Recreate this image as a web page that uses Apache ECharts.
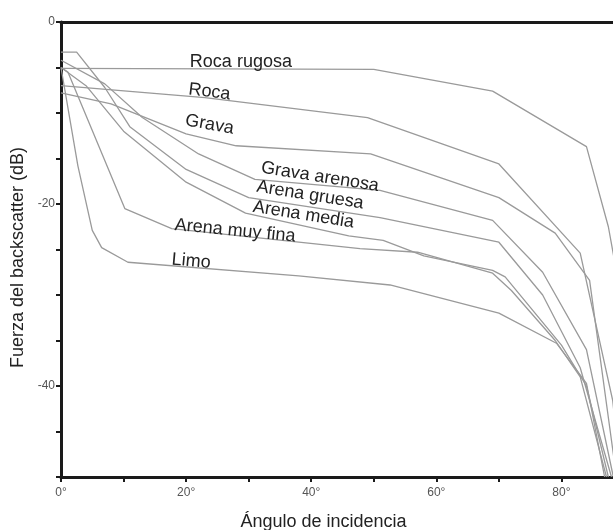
<!DOCTYPE html>
<html>
<head>
<meta charset="utf-8">
<script src="https://cdn.jsdelivr.net/npm/echarts@6/dist/echarts.min.js"></script>
<style>
html,body{margin:0;padding:0;background:#fff;}
#c{width:613px;height:530px;}
</style>
</head>
<body>
<div id="c"></div>
<script>
// Data: [angle (deg), backscatter (dB)]
const rocaRugosa = [[0,-5.1],[50,-5.2],[69,-7.6],[84,-13.7],[87.5,-22.5],[90,-32]];
const roca = [[0,-7.0],[23,-8.3],[49,-10.5],[70,-15.6],[83,-25.4],[88.2,-41.6],[89.5,-50]];
const grava = [[0,-7.8],[8,-9.0],[20,-12.3],[28,-13.6],[49.5,-14.5],[70,-19.3],[79,-23.2],[84.5,-28.4],[88.8,-50]];
const gravaArenosa = [[0,-4.2],[7,-6.8],[13,-10.5],[22,-14.5],[31,-17.3],[51,-18.5],[69,-21.8],[77,-27.5],[84,-36],[88.3,-50]];
const arenaGruesa = [[0,-3.3],[2.5,-3.3],[7,-7.2],[11,-11.5],[20,-16.2],[30,-19.3],[51,-21.5],[70,-24.2],[77,-30],[83,-38],[88,-50]];
const arenaMedia = [[0,-5],[4,-7],[10,-12],[20,-17.6],[29.5,-21],[46,-23.5],[51.5,-24],[58,-25.7],[69,-27.3],[71,-28],[80,-35.5],[84,-40],[87.5,-50]];
const arenaMuyFina = [[0,-5],[1.1,-5.5],[10.2,-20.5],[17.7,-22.7],[47.8,-24.9],[57,-25.3],[69,-27.6],[72,-29.5],[79,-35],[83,-39],[87.2,-50]];
const limo = [[0,-5],[2.7,-15.8],[5,-22.9],[6.5,-24.8],[10.7,-26.4],[38,-27.9],[52.6,-28.9],[70,-32],[79.2,-35.3],[84,-39.7],[86.9,-50]];

const seriesNames = ['Roca rugosa','Roca','Grava','Grava arenosa','Arena gruesa','Arena media','Arena muy fina','Limo'];
const seriesData = [rocaRugosa, roca, grava, gravaArenosa, arenaGruesa, arenaMedia, arenaMuyFina, limo];

// Curve labels: [text, angle, dB, rotation(deg)]
const labels = [
  ['Roca rugosa', 20.6, -4.35, 0],
  ['Roca', 20.4, -7.4, -7],
  ['Grava', 19.9, -10.8, -10],
  ['Grava arenosa', 32.0, -16.0, -9],
  ['Arena gruesa', 31.3, -18.1, -9],
  ['Arena media', 30.7, -20.3, -9],
  ['Arena muy fina', 18.2, -22.3, -5.5],
  ['Limo', 17.7, -26.1, -5]
];

const chart = echarts.init(document.getElementById('c'), null, {renderer:'canvas'});
const FONT = '"Liberation Sans", Arial, Helvetica, sans-serif';
const AX = '#1a1a1a';
const option = {
  animation: false,
  backgroundColor: '#fff',
  grid: {left: 61, top: 22, right: -11, bottom: 53, show: false, containLabel: false, outerBoundsMode: 'none'},
  xAxis: [{
    type: 'value', min: 0, max: 90, interval: 10,
    axisLine: {show: true, onZero: false, lineStyle: {color: AX, width: 3}},
    axisTick: {show: true, inside: false, length: 5, lineStyle: {color: AX, width: 2}},
    splitLine: {show: false},
    axisLabel: {color: '#555', fontFamily: FONT, fontSize: 12, margin: 10,
      formatter: v => (v % 20 === 0 && v <= 80) ? v + '°' : ''},
    name: 'Ángulo de incidencia', nameLocation: 'middle', nameGap: 36,
    nameTextStyle: {color: '#222', fontFamily: FONT, fontSize: 18, padding: [0, 38, 0, 0]}
  }, {
    type: 'value', position: 'top', min: 0, max: 90, interval: 10,
    axisLine: {show: true, onZero: false, lineStyle: {color: AX, width: 3}},
    axisTick: {show: false}, axisLabel: {show: false}, splitLine: {show: false}
  }],
  yAxis: {
    type: 'value', min: -50, max: 0, interval: 5,
    axisLine: {show: true, onZero: false, lineStyle: {color: AX, width: 3}},
    axisTick: {show: true, inside: false, length: 5, lineStyle: {color: AX, width: 2}},
    splitLine: {show: false},
    axisLabel: {color: '#555', fontFamily: FONT, fontSize: 12, margin: 6,
      formatter: v => (v % 20 === 0) ? String(v) : ''},
    name: 'Fuerza del backscatter (dB)', nameLocation: 'middle', nameGap: 29, nameRotate: 90,
    nameTextStyle: {color: '#222', fontFamily: FONT, fontSize: 18, padding: [0, 16, 0, 0]}
  },
  series: seriesData.map((d, i) => ({
    name: seriesNames[i], type: 'line', data: d, showSymbol: false, symbol: 'none',
    lineStyle: {color: '#9a9a9a', width: 1.3}, silent: true, clip: true, z: 1
  }))
};
chart.setOption(option);

const gfx = labels.map(l => {
  const p = chart.convertToPixel({gridIndex: 0}, [l[1], l[2]]);
  return {
    type: 'text', x: p[0], y: p[1], rotation: l[3] * Math.PI / 180, z: 10,
    style: {text: l[0], font: '18px ' + FONT, fill: '#222', align: 'left', verticalAlign: 'middle',
            textAlign: 'left', textVerticalAlign: 'middle'}
  };
});
chart.setOption({graphic: gfx});
</script>
</body>
</html>
